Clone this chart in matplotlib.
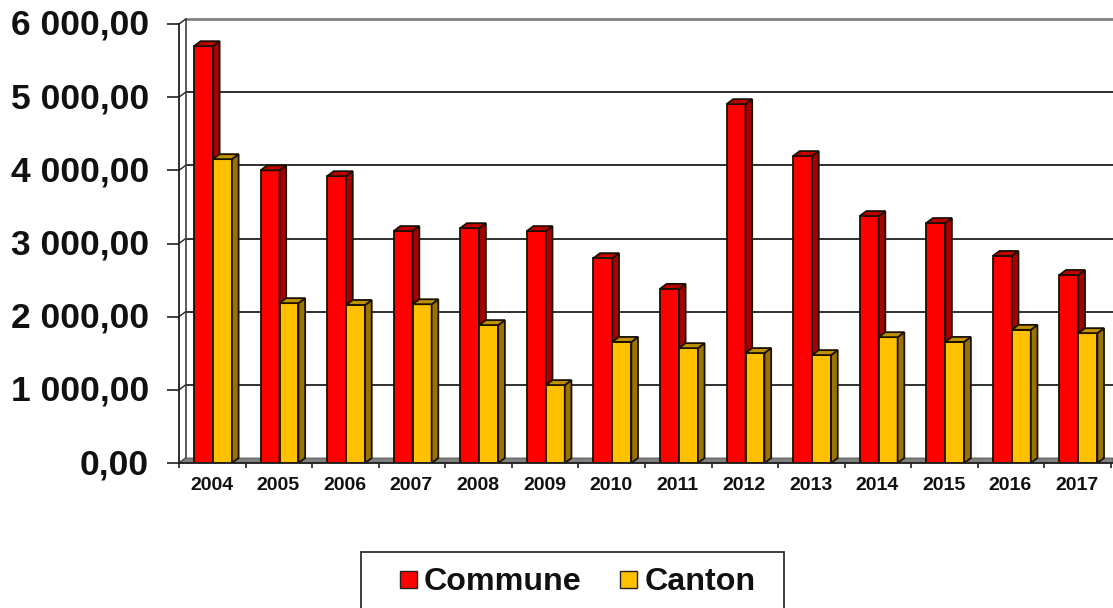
"""Commune vs Canton yearly amounts, drawn as a fake 3D bar chart."""

import matplotlib

matplotlib.use("Agg")
import matplotlib.pyplot as plt
import numpy as np
from matplotlib.patches import Polygon, Rectangle
from matplotlib.transforms import ScaledTranslation

years = ["2004", "2005", "2006", "2007", "2008", "2009", "2010",
         "2011", "2012", "2013", "2014", "2015", "2016", "2017"]
commune = [5697, 4000, 3920, 3170, 3210, 3170, 2800, 2380, 4905, 4195, 3375, 3280, 2830, 2570]
canton = [4153, 2185, 2160, 2170, 1885, 1065, 1655, 1570, 1503, 1475, 1720, 1655, 1820, 1775]
y_ticks = [0, 1000, 2000, 3000, 4000, 5000, 6000]
y_labels = ["0,00", "1 000,00", "2 000,00", "3 000,00", "4 000,00", "5 000,00", "6 000,00"]

W, H = 1113, 608
DX = 0.10  # depth in x data units
DY = 68  # depth in y data units
BAR_W = 0.285

plt.rcParams["font.family"] = ["Liberation Sans", "DejaVu Sans"]
plt.rcParams["font.weight"] = "bold"

fig = plt.figure(figsize=(W / 100, H / 100), dpi=100)
ax = fig.add_axes([179 / W, (H - 463) / H, 934 / W, 439 / H])
ax.set_xlim(0, 14.03)
ax.set_ylim(0, 6000)
for s in ["top", "right"]:
    ax.spines[s].set_visible(False)
for s in ["left", "bottom"]:
    ax.spines[s].set_color("#202020")
    ax.spines[s].set_linewidth(1.3)

ax.set_yticks(y_ticks)
ax.set_yticklabels(y_labels, fontsize=25.5, color="#111111")
ax.tick_params(axis="y", length=8.5, width=1.2, pad=13, color="#202020")
# labels sit a little above their ticks
nudge = ScaledTranslation(0, 2 / 100, fig.dpi_scale_trans)
for lab in ax.get_yticklabels():
    lab.set_transform(lab.get_transform() + nudge)
ax.set_xticks(np.arange(0, 15))
ax.set_xticklabels([])
ax.tick_params(axis="x", length=3.6, width=1.2, color="#202020")
for i, yr in enumerate(years):
    ax.annotate(yr, (i + 0.49, 0), xytext=(0, -16), textcoords="offset points",
                ha="center", va="center", fontsize=14, color="#111111",
                annotation_clip=False)

# back wall, side wall and floor
x_end = ax.get_xlim()[1]
for v in y_ticks[1:]:
    color = "#808080" if v == 6000 else "#202020"
    lw = 2.0 if v == 6000 else 1.3
    ax.plot([DX, x_end], [v + DY, v + DY], color=color, lw=lw, zorder=1, clip_on=False)
for v in y_ticks:
    ax.plot([0, DX], [v, v + DY], color="#202020", lw=1.0, zorder=1, clip_on=False)
ax.plot([DX, DX], [DY, 6000 + DY], color="#404040", lw=1.2, zorder=1, clip_on=False)
ax.add_patch(Polygon([(0, 0), (DX, DY), (x_end, DY), (x_end, 0)], closed=True,
                     facecolor="#808080", edgecolor="#505050", lw=0.6, zorder=1.5, clip_on=False))


def bar3d(x, val, front, side, top):
    edge = "#1a1000"
    ax.add_patch(Rectangle((x, 0), BAR_W, val, facecolor=front, edgecolor=edge, lw=1.3, zorder=2))
    ax.add_patch(Polygon([(x + BAR_W, 0), (x + BAR_W + DX, DY), (x + BAR_W + DX, val + DY), (x + BAR_W, val)],
                         closed=True, facecolor=side, edgecolor=edge, lw=1.3, zorder=2, clip_on=False))
    ax.add_patch(Polygon([(x, val), (x + DX, val + DY), (x + BAR_W + DX, val + DY), (x + BAR_W, val)],
                         closed=True, facecolor=top, edgecolor=edge, lw=1.3, zorder=2, clip_on=False))


for i in range(len(years)):
    bar3d(i + 0.225, commune[i], "#FF0000", "#A80000", "#C00000")
    bar3d(i + 0.225 + BAR_W, canton[i], "#FFC000", "#9A7400", "#BF9000")

# legend box runs off the bottom of the picture
fig.add_artist(Rectangle((361 / W, -0.02), 423 / W, (H - 552) / H + 0.02, transform=fig.transFigure,
                         facecolor="white", edgecolor="#303030", lw=1.3))
fig.add_artist(Rectangle((400 / W, (H - 588) / H), 17 / W, 17 / H, transform=fig.transFigure,
                         facecolor="#FF0000", edgecolor="#202020", lw=1.0))
fig.add_artist(Rectangle((620 / W, (H - 588) / H), 17 / W, 17 / H, transform=fig.transFigure,
                         facecolor="#FFC000", edgecolor="#202020", lw=1.0))
fig.text(424 / W, (H - 582) / H, "Commune", fontsize=23.2, color="#111111", va="center", ha="left")
fig.text(645 / W, (H - 582) / H, "Canton", fontsize=23.2, color="#111111", va="center", ha="left")

fig.savefig("out.png", dpi=100)
plt.close(fig)
